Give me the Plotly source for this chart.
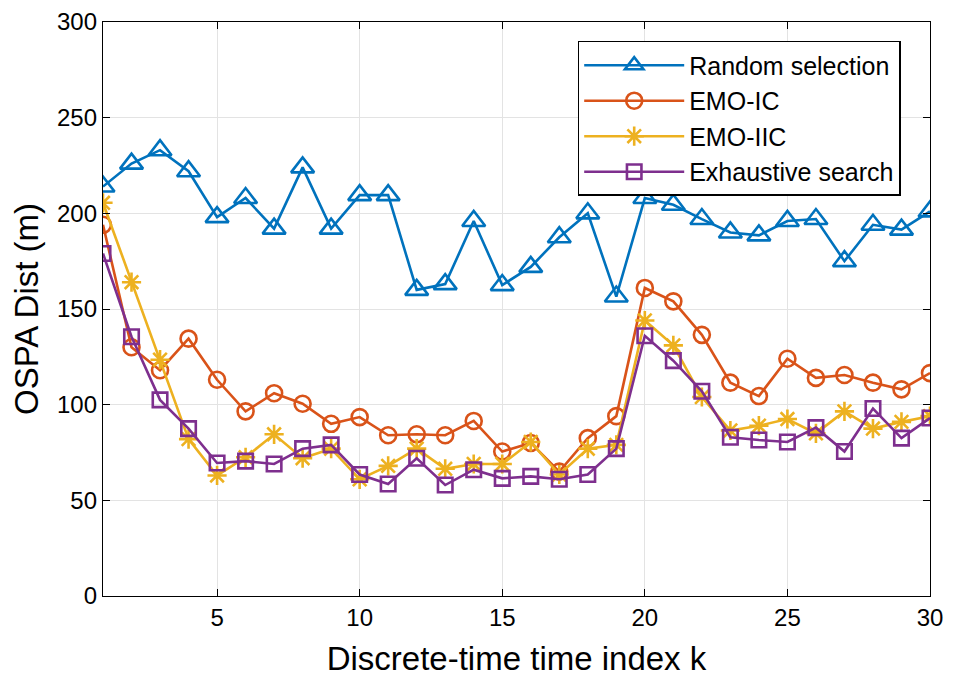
import plotly.graph_objects as go

k = list(range(1, 31))
random_selection = [214, 226, 233, 222, 198, 208, 192, 224, 192, 209.5, 209.5, 160, 163, 196, 162.5,
                    172, 187.5, 200, 156.5, 208, 204.5, 197, 190, 188.5, 196, 197, 175, 194, 191.5, 201]
emo_ic = [194, 130, 118, 134.5, 113, 96.5, 106, 100.5, 90, 93.5, 84, 84.5, 84, 91.5, 75.5,
          80, 65, 82.5, 94, 161, 154, 136.5, 111.5, 104.5, 124, 114, 115.5, 111.5, 108, 116.5]
emo_iic = [205.5, 164, 123.5, 82, 63, 72.5, 84.5, 72, 77, 61, 68, 77, 66.5, 69, 69,
           80.5, 63.5, 77, 79, 144, 131, 104, 86.5, 89, 92.5, 85, 96.5, 87.5, 91, 94]
exhaustive = [179, 135.5, 102.5, 87.5, 69.5, 70.5, 69, 77, 79, 63.5, 58.5, 72, 58, 66, 61.5,
              62.5, 61, 63.5, 77, 136, 123, 107, 83, 81.5, 80.5, 88, 75.5, 98, 82.5, 93]

names = ["Random selection", "EMO-IC", "EMO-IIC", "Exhaustive search"]
colors = ["#0072BD", "#D95319", "#EDB120", "#7E2F8E"]
symbols = ["triangle-up-open", "circle-open", "asterisk-open", "square-open"]
sizes = [20, 16, 16, 14.5]
series = [random_selection, emo_ic, emo_iic, exhaustive]

FONT = "Liberation Sans, Arial, Helvetica"

fig = go.Figure()
for name, c, s, sz, y in zip(names, colors, symbols, sizes, series):
    fig.add_trace(go.Scatter(
        x=k, y=y, name=name, mode="lines+markers",
        line=dict(color=c, width=2.6),
        marker=dict(symbol=s, size=sz, color=c, line=dict(color=c, width=2.6)),
    ))

axis_common = dict(
    showline=True, linecolor="black", linewidth=1.3, mirror="ticks",
    ticks="inside", ticklen=7, tickcolor="black", tickwidth=1.2,
    showgrid=True, gridcolor="#e3e3e3", gridwidth=1.2, zeroline=False,
    automargin=False, ticklabeloverflow="allow",
    tickfont=dict(family=FONT, size=24, color="black"),
)
fig.update_xaxes(range=[1, 30], tickvals=[5, 10, 15, 20, 25, 30],
                 title=dict(text="Discrete-time time index k",
                            font=dict(family=FONT, size=33, color="black"),
                            standoff=16),
                 **axis_common)
fig.update_yaxes(range=[0, 300], tickvals=[0, 50, 100, 150, 200, 250, 300],
                 title=dict(text="OSPA Dist (m)",
                            font=dict(family=FONT, size=33, color="black"),
                            standoff=30),
                 **axis_common)
fig.update_layout(
    width=960, height=676,
    margin=dict(l=95, r=38, t=14, b=88),
    plot_bgcolor="white", paper_bgcolor="white",
    legend=dict(x=0.574, y=0.967, xanchor="left", yanchor="top",
                bgcolor="white", bordercolor="black", borderwidth=1.5,
                font=dict(family=FONT, size=25, color="black"),
                tracegroupgap=0, itemwidth=100),
    showlegend=True,
)
fig.write_html("out.html")
